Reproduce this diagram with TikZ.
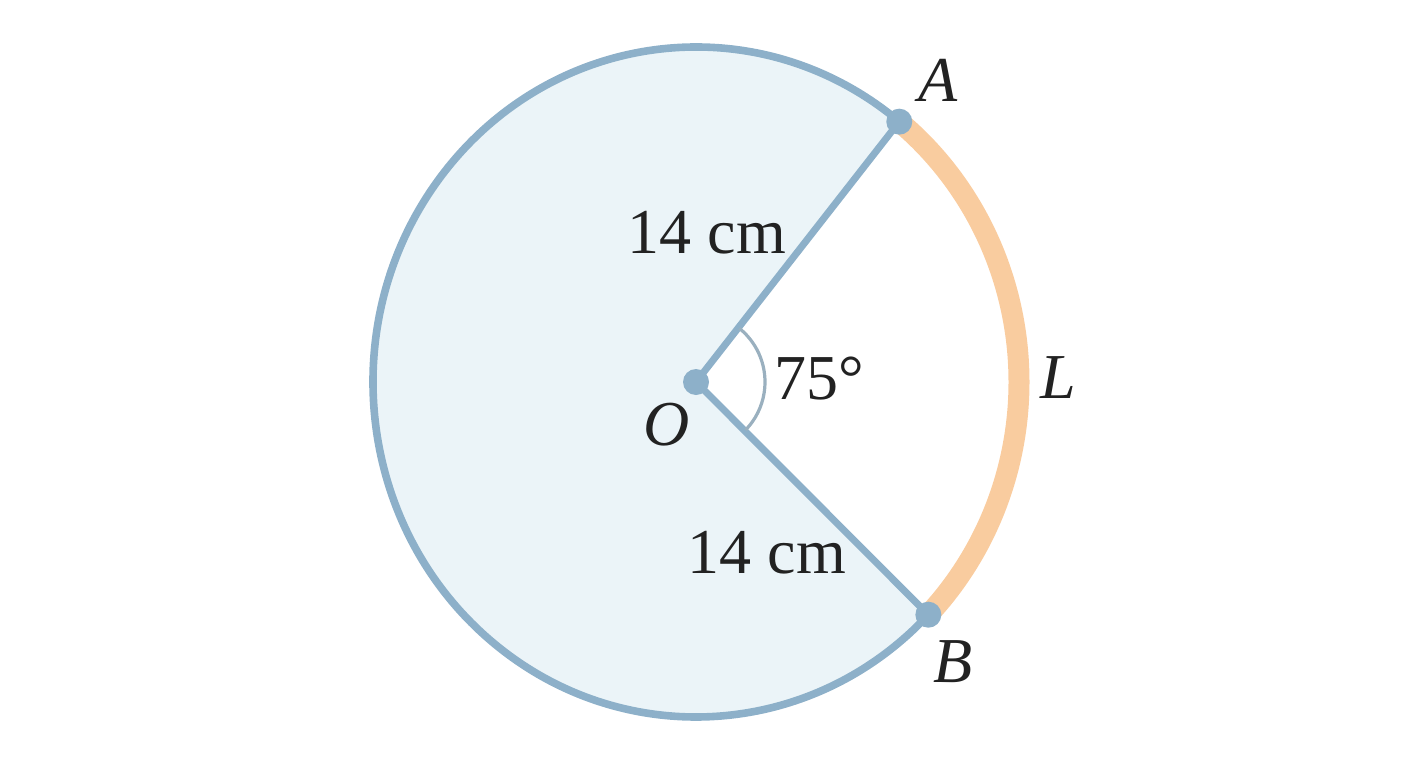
\documentclass[tikz,border=0pt]{standalone}
\usepackage{fontspec}
\setmainfont{Liberation Serif}
\usetikzlibrary{calc}
\definecolor{bline}{HTML}{8DB0C9}
\definecolor{bfill}{HTML}{EBF4F8}
\definecolor{oarc}{HTML}{F9CC9F}
\definecolor{aarc}{HTML}{9AB0BF}
\definecolor{txt}{HTML}{222222}
\tikzset{
  dot/.style={circle,fill=bline,inner sep=0pt,minimum size=13pt},
  lbl/.style={inner sep=0pt,text=txt,font=\fontsize{32pt}{38pt}\selectfont},
  ell/.style={x radius=161.5pt,y radius=167.5pt}
}
\begin{document}
\begin{tikzpicture}[x=0.5pt,y=0.5pt]
\useasboundingbox (0,0) rectangle (1408,768);
\coordinate (O) at (696,386);
\coordinate (A) at ($(O)+(51:161.5pt and 167.5pt)$);
\coordinate (B) at ($(O)+(-44:161.5pt and 167.5pt)$);
\coordinate (a1) at ($(O)+(51:34.5pt)$);
% major sector fill
\fill[bfill] (O) -- (A) arc[start angle=51,end angle=316,ell] -- cycle;
% circle outline (major arc)
\draw[bline,line width=3.8pt] (A) arc[start angle=51,end angle=316,ell];
% minor arc L
\draw[oarc,line width=10.5pt] (B) arc[start angle=-44,end angle=51,ell];
% radii
\draw[bline,line width=3.5pt] (O) -- (A);
\draw[bline,line width=3.5pt] (O) -- (B);
% angle mark
\draw[aarc,line width=1.6pt] (a1) arc[start angle=51,end angle=-44,radius=34.5pt];
% dots
\node[dot] (dO) at (O) {};
\node[dot] (dA) at (A) {};
\node[dot] (dB) at (B) {};
% labels
\node[lbl] (lA) at (938,688) {\itshape A};
\node[lbl] (lB) at (953,106) {\itshape B};
\node[lbl] (lO) at (667,343) {\itshape O};
\node[lbl] (lL) at (1058,390) {\itshape L};
\node[lbl] (r1) at (707,535) {14 cm};
\node[lbl] (r2) at (767,215) {14 cm};
\node[lbl] (ang) at (819,389) {75°};
\end{tikzpicture}
\end{document}
